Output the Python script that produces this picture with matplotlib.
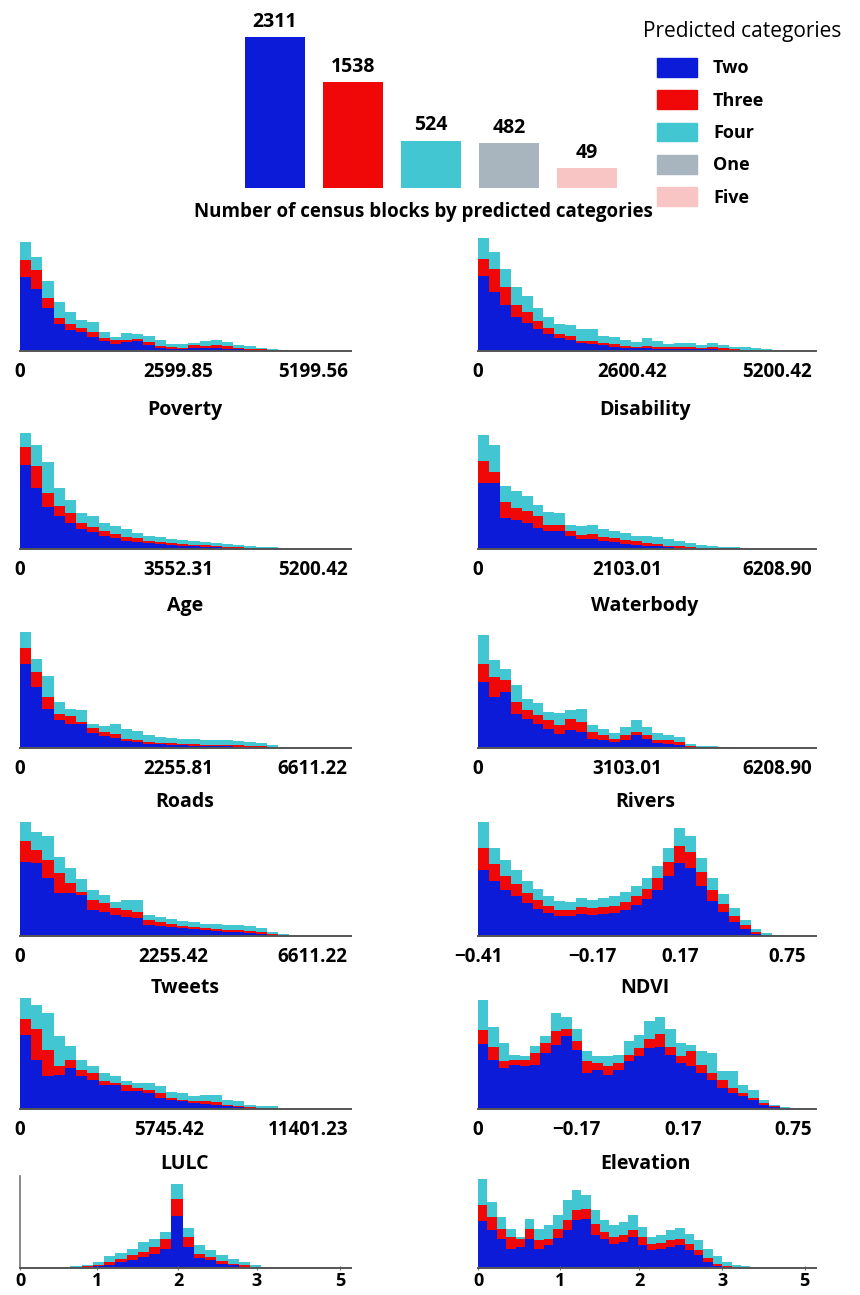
import numpy as np
import matplotlib
matplotlib.use("Agg")
import matplotlib.pyplot as plt
from matplotlib.patches import Patch

plt.rcParams['font.family'] = ['Open Sans', 'DejaVu Sans']

# summary bar chart
categories = ["Two", "Three", "Four", "One", "Five"]
block_counts = [2311, 1538, 524, 482, 49]
bar_floor = -290  # value axis of the summary chart does not start at zero

colors = {"Two": "#0c1bd8", "Three": "#f00808", "Four": "#42c6d1",
          "One": "#a8b5bf", "Five": "#f8c4c4"}

# stacked histograms (per-bin heights of Two / Three / Four)
r1l_two = [74, 62, 43, 27, 21, 19, 14, 10, 7, 9, 10, 6, 3, 2, 2, 3, 3, 3, 2, 2, 1, 1, 1, 0.5]
r1l_three = [17, 19, 10, 6, 6, 4, 5, 3, 4, 2, 2, 3, 2, 2, 1, 3, 2, 3, 3, 1, 1, 1, 0, 0.5]
r1l_four = [18, 13, 17, 16, 12, 8, 10, 6, 3, 7, 5, 6, 6, 3, 4, 2, 5, 5, 4, 3, 3, 1, 1, 0.5]

r1r_two = [75, 59, 46, 34, 28, 22, 17, 13, 11, 8, 7, 6, 4, 3, 3, 3, 2, 2, 2, 2, 2, 2, 1, 1, 0.5, 0.5, 0.3]
r1r_three = [17, 23, 18, 12, 11, 8, 6, 4, 4, 2, 3, 2, 3, 2, 1, 2, 2, 2, 2, 2, 1, 2, 2, 1, 0.5, 0.5, 0.2]
r1r_four = [21, 17, 18, 18, 16, 13, 11, 10, 11, 12, 12, 7, 7, 6, 5, 8, 6, 3, 4, 4, 3, 4, 3, 2, 3, 2, 1.5]

r2l_two = [84, 61, 42, 33, 26, 20, 17, 13, 11, 8, 7, 6, 5, 4, 3, 3, 2, 2, 1, 1, 0.5, 0.5, 0.3, 0.2]
r2l_three = [18, 22, 14, 10, 10, 6, 5, 5, 4, 4, 4, 2, 2, 2, 2, 1, 2, 1, 1, 1, 0.5, 0.5, 0.2, 0.1]
r2l_four = [14, 21, 31, 18, 13, 10, 11, 8, 8, 8, 5, 5, 5, 4, 4, 4, 3, 3, 3, 2, 2, 1, 1, 0.7]

r2r_two = [66, 66, 31, 29, 26, 21, 18, 18, 13, 10, 10, 8, 7, 5, 4, 3, 3, 2, 1, 1, 0.5, 0.5, 0.3, 0.2, 0.1]
r2r_three = [22, 11, 16, 12, 12, 12, 6, 6, 5, 4, 5, 4, 4, 4, 4, 3, 2, 1, 2, 1, 0.5, 0.5, 0.4, 0.3, 0.2]
r2r_four = [26, 27, 16, 17, 15, 11, 13, 12, 6, 9, 9, 8, 7, 7, 5, 7, 7, 7, 5, 4, 3, 2, 1.3, 1, 0.7]

r3l_two = [84, 61, 39, 28, 24, 24, 15, 12, 10, 7, 6, 4, 4, 3, 3, 2, 2, 2, 2, 1, 1, 1, 0.5, 0.2]
r3l_three = [16, 15, 12, 6, 8, 2, 5, 4, 4, 2, 2, 2, 1, 2, 1, 2, 1, 1, 1, 2, 1, 1, 0.5, 0.3]
r3l_four = [16, 13, 21, 12, 7, 12, 4, 6, 10, 10, 9, 7, 6, 5, 5, 5, 5, 5, 5, 4, 4, 3, 2, 0.5]

r3r_two = [66, 51, 56, 34, 29, 24, 19, 14, 18, 16, 9, 8, 6, 8, 13, 9, 5, 4, 3, 1, 0.3, 0.3, 0.2, 0.2, 0.1]
r3r_three = [18, 20, 12, 12, 9, 9, 9, 9, 11, 10, 7, 5, 3, 5, 3, 4, 3, 4, 3, 1, 0.7, 0.7, 0.5, 0.4, 0.3]
r3r_four = [29, 17, 11, 17, 11, 12, 8, 12, 9, 13, 7, 6, 6, 8, 12, 8, 7, 5, 5, 2, 1, 0.7, 0.5, 0.4, 0.3]

r4l_two = [74, 73, 58, 43, 43, 41, 26, 24, 21, 19, 18, 11, 10, 9, 8, 7, 6, 5, 4, 4, 3, 2, 1, 0.5]
r4l_three = [21, 13, 18, 20, 10, 3, 10, 9, 7, 7, 6, 5, 4, 3, 2, 2, 2, 2, 2, 2, 2, 2, 1, 0.5]
r4l_four = [19, 18, 24, 16, 15, 13, 10, 8, 6, 10, 12, 5, 5, 5, 5, 5, 4, 5, 5, 5, 5, 4, 2, 1]

r4r_two = [66, 55, 46, 40, 33, 27, 23, 20, 20, 22, 21, 22, 23, 26, 31, 37, 46, 60, 73, 68, 50, 35, 24, 14, 7, 2, 1, 0.3]
r4r_three = [22, 17, 14, 12, 10, 9, 7, 6, 6, 7, 7, 7, 7, 8, 9, 10, 12, 14, 17, 16, 14, 11, 8, 6, 4, 2, 0.5, 0.2]
r4r_four = [26, 16, 16, 14, 12, 11, 10, 9, 8, 9, 8, 9, 10, 10, 10, 11, 12, 14, 18, 16, 14, 12, 10, 8, 5, 3, 1.5, 0.5]

r5l_two = [74, 49, 33, 34, 41, 33, 29, 24, 24, 18, 18, 16, 11, 9, 8, 6, 5, 4, 3, 2, 1, 0.5, 0.5]
r5l_three = [16, 31, 26, 9, 8, 6, 7, 4, 2, 6, 3, 3, 5, 2, 1, 2, 3, 3, 1, 1, 1, 0.5, 0.5]
r5l_four = [21, 24, 37, 30, 14, 10, 7, 8, 7, 4, 5, 7, 7, 6, 7, 5, 6, 7, 5, 5, 2, 2, 2]

r5r_two = [65, 49, 41, 44, 43, 44, 56, 64, 73, 59, 36, 39, 34, 39, 48, 53, 61, 62, 54, 46, 43, 36, 29, 21, 16, 13, 9, 4, 2, 0.5, 0.2]
r5r_three = [14, 13, 7, 5, 6, 12, 10, 14, 7, 9, 12, 7, 9, 7, 6, 8, 9, 13, 8, 7, 15, 8, 7, 8, 5, 3, 2, 2, 1, 0.5, 0.3]
r5r_four = [30, 20, 18, 5, 4, 7, 7, 18, 12, 12, 10, 7, 10, 8, 14, 13, 18, 17, 18, 13, 6, 14, 20, 9, 17, 8, 8, 3, 1, 1, 0.5]

r6l_two = [0.5, 1, 2, 3, 6, 8, 11, 14, 19, 52, 21, 10, 8, 4, 3, 1.3, 0.7, 0.3]
r6l_three = [0.5, 1, 1.3, 3, 3, 5, 5, 7, 10, 17, 10, 4, 3, 3, 1, 1.7, 0.6, 0.2]
r6l_four = [1, 1.3, 2.7, 6, 6, 6, 10, 8, 7, 15, 9, 9, 7, 6, 5, 3, 1.7, 0.5]

r6r_two = [47, 38, 29, 19, 21, 29, 19, 23, 30, 38, 48, 49, 33, 29, 24, 26, 31, 23, 18, 19, 21, 23, 18, 13, 6, 2, 0.7, 0.3, 0.2, 0.1]
r6r_three = [16, 13, 10, 12, 8, 10, 9, 6, 9, 10, 10, 10, 11, 7, 7, 7, 7, 8, 6, 6, 7, 6, 6, 5, 4, 2, 1.3, 0.4, 0.3, 0.2]
r6r_four = [26, 15, 12, 8, 2, 10, 11, 14, 14, 20, 20, 14, 14, 12, 12, 13, 15, 10, 7, 8, 10, 11, 10, 10, 9, 8, 4, 2, 1.5, 0.4]

feature_names = [("Poverty", "Disability"), ("Age", "Waterbody"), ("Roads", "Rivers"),
                 ("Tweets", "NDVI"), ("LULC", "Elevation")]

r1l_ticks = ["0", "2599.85", "5199.56"]
r1r_ticks = ["0", "2600.42", "5200.42"]
r2l_ticks = ["0", "3552.31", "5200.42"]
r2r_ticks = ["0", "2103.01", "6208.90"]
r3l_ticks = ["0", "2255.81", "6611.22"]
r3r_ticks = ["0", "3103.01", "6208.90"]
r4l_ticks = ["0", "2255.42", "6611.22"]
r4r_ticks = ["\u22120.41", "\u22120.17", "0.17", "0.75"]
r5l_ticks = ["0", "5745.42", "11401.23"]
r5r_ticks = ["0", "\u22120.17", "0.17", "0.75"]
r6l_ticks = ["0", "1", "2", "3", "5"]
r6r_ticks = ["0", "1", "2", "3", "5"]

W, H = 860, 1295
fig = plt.figure(figsize=(W / 100, H / 100), dpi=100)


def px_axes(x0, y0, x1, y1):
    ax = fig.add_axes([x0 / W, 1 - y1 / H, (x1 - x0) / W, (y1 - y0) / H])
    ax.patch.set_visible(False)
    return ax


# ---- top bar chart ----
ax = px_axes(236, 20, 626, 188)
x = np.arange(len(categories))
ax.bar(x, np.array(block_counts) - bar_floor, bottom=bar_floor, width=0.78,
       color=[colors[c] for c in categories])
for xi, v in zip(x, block_counts):
    ax.annotate(str(v), (xi, v), xytext=(0, 11), textcoords="offset points",
                ha="center", va="center", fontsize=14, fontweight="bold")
ax.set_xlim(-0.5, 4.5)
ax.set_ylim(bar_floor, 2605)
ax.axis("off")
fig.text(423 / W, 1 - 212 / H, "Number of census blocks by predicted categories",
         ha="center", va="center", fontsize=13.5, fontweight="bold")

fig.text(742 / W, 1 - 31 / H, "Predicted categories", ha="center", va="center", fontsize=15)
handles = [Patch(color=colors[c]) for c in categories]
fig.legend(handles, categories, loc="upper left", bbox_to_anchor=(657 / W, 1 - 58 / H),
           frameon=False, borderpad=0, borderaxespad=0, handlelength=2.2,
           handleheight=1.2, labelspacing=0.72, handletextpad=0.9,
           prop={"family": "Open Sans", "weight": "bold", "size": 13})

# ---- histogram grid ----
baselines = [351, 549, 748, 936, 1109, 1268]
left_px = (20, 351)
right_px = (478, 816)

# (row, side, two, three, four, first bin, bins across axis, tick positions in bins, labels)
panels = [
    (0, "L", r1l_two, r1l_three, r1l_four, 0, 29.5, [0, 14.1, 26.1], r1l_ticks),
    (0, "R", r1r_two, r1r_three, r1r_four, 0, 31, [0, 14.1, 27.4], r1r_ticks),
    (1, "L", r2l_two, r2l_three, r2l_four, 0, 29.5, [0, 14.1, 26.1], r2l_ticks),
    (1, "R", r2r_two, r2r_three, r2r_four, 0, 31, [0, 13.7, 27.4], r2r_ticks),
    (2, "L", r3l_two, r3l_three, r3l_four, 0, 29.5, [0, 14.1, 26.1], r3l_ticks),
    (2, "R", r3r_two, r3r_three, r3r_four, 0, 31, [0, 13.7, 27.4], r3r_ticks),
    (3, "L", r4l_two, r4l_three, r4l_four, 0, 29.5, [0, 13.7, 26.1], r4l_ticks),
    (3, "R", r4r_two, r4r_three, r4r_four, 0, 31, [0, 10.5, 18.5, 28.4], r4r_ticks),
    (4, "L", r5l_two, r5l_three, r5l_four, 0, 29.5, [0, 13.3, 25.7], r5l_ticks),
    (4, "R", r5r_two, r5r_three, r5r_four, 0, 32.5, [0, 9.5, 19.7, 30.3], r5r_ticks),
    (5, "L", r6l_two, r6l_three, r6l_four, 4.5, 29.5, [0, 6.9, 14.1, 21.1, 28.5], r6l_ticks),
    (5, "R", r6r_two, r6r_three, r6r_four, 0, 36, [0, 8.7, 17.2, 26.0, 34.8], r6r_ticks),
]

for row, side, two, three, four, start, nb, tpos, tlab in panels:
    base = baselines[row]
    top = 1176 if row == 5 else base - 122
    x0, x1 = left_px if side == "L" else right_px
    ax = px_axes(x0, top, x1, base)

    b = np.array(two, dtype=float)
    r = b + np.array(three)
    c = r + np.array(four)
    edges = start + np.arange(len(b) + 1)
    ax.stairs(c, edges, fill=True, color=colors["Four"], lw=0)
    ax.stairs(r, edges, fill=True, color=colors["Three"], lw=0)
    ax.stairs(b, edges, fill=True, color=colors["Two"], lw=0)

    ax.set_xlim(0, nb)
    ax.set_ylim(0, base - top)
    for s in ["top", "right", "left"]:
        ax.spines[s].set_visible(False)
    ax.spines["bottom"].set_color("#555555")
    ax.spines["bottom"].set_linewidth(1.4)
    ax.set_yticks([])
    ax.set_xticks(tpos)
    if row == 5:
        ax.set_xticklabels(tlab, fontsize=13, fontweight="bold")
        ax.tick_params(axis="x", length=3, direction="inout", color="#777777", pad=1.5)
        if side == "L":
            ax.spines["left"].set_visible(True)
            ax.spines["left"].set_color("#777777")
            ax.spines["left"].set_linewidth(1.2)
    else:
        ax.set_xticklabels(tlab, fontsize=13.5, fontweight="bold")
        ax.tick_params(axis="x", length=0, pad=8)

label_y = [410, 606, 802, 988, 1164]
for (ln, rn), y in zip(feature_names, label_y):
    fig.text(185 / W, 1 - y / H, ln, ha="center", va="center", fontsize=14, fontweight="bold")
    fig.text(645 / W, 1 - y / H, rn, ha="center", va="center", fontsize=14, fontweight="bold")

fig.savefig("out.png", dpi=100, facecolor="white")
